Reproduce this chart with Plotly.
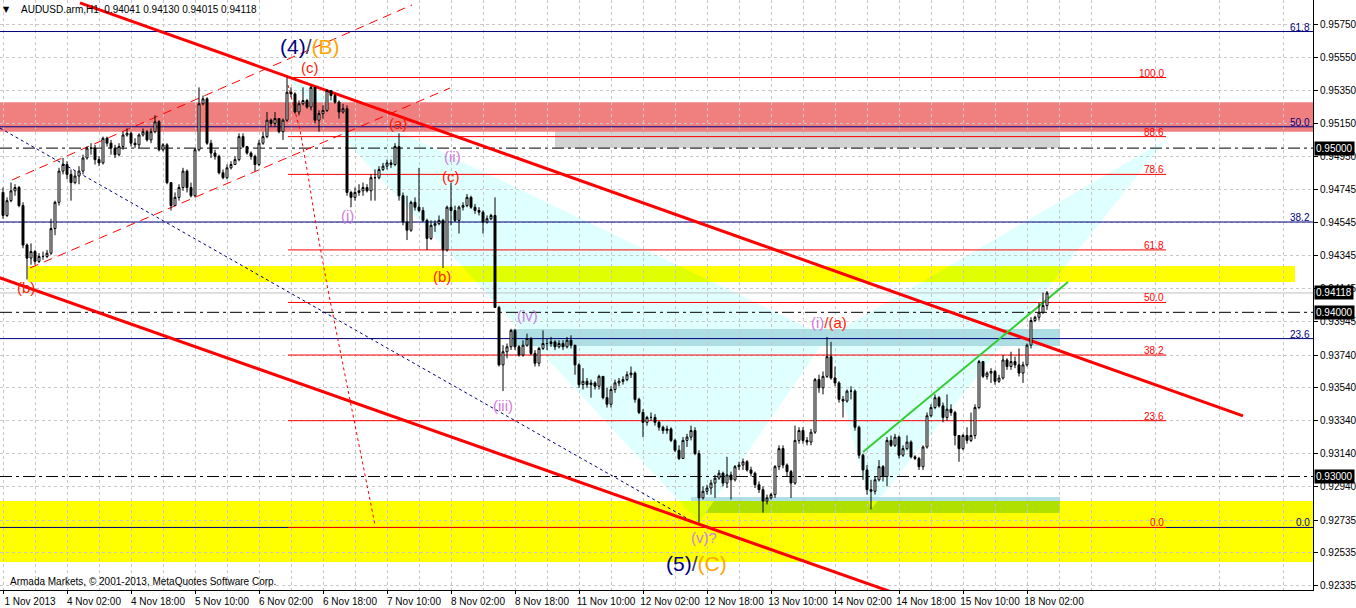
import plotly.graph_objects as go

# ------------------------------------------------------------------ data
tick_bars = [0, 16, 32, 48, 64, 80, 96, 112, 128, 144, 160, 176, 192, 208, 224, 240, 256]
tick_labels = ["1 Nov 2013", "4 Nov 02:00", "4 Nov 18:00", "5 Nov 10:00", "6 Nov 02:00",
               "6 Nov 18:00", "7 Nov 10:00", "8 Nov 02:00", "8 Nov 18:00", "11 Nov 10:00",
               "12 Nov 02:00", "12 Nov 18:00", "13 Nov 10:00", "14 Nov 02:00", "14 Nov 18:00",
               "15 Nov 10:00", "18 Nov 02:00"]
price_ticks = [0.95750, 0.95550, 0.95350, 0.95150, 0.94950, 0.94745, 0.94545, 0.94345, 0.94145,
               0.93945, 0.93740, 0.93540, 0.93340, 0.93140, 0.92940, 0.92735, 0.92535, 0.92335]

first_open = 0.9473
close = [
    0.9459, 0.9468, 0.9474, 0.9476, 0.9465, 0.9441, 0.9433, 0.9437, 0.9431, 0.9434,
    0.9434, 0.9436, 0.9451, 0.9467, 0.9486, 0.9490, 0.9484, 0.9479, 0.9483, 0.9486,
    0.9494, 0.9500, 0.9500, 0.9493, 0.9491, 0.9506, 0.9503, 0.9500, 0.9496, 0.9501,
    0.9508, 0.9509, 0.9503, 0.9502, 0.9508, 0.9510, 0.9505, 0.9510, 0.9516, 0.9499,
    0.9502, 0.9479, 0.9465, 0.9470, 0.9476, 0.9486, 0.9476, 0.9471, 0.9499, 0.9527,
    0.9530, 0.9503, 0.9497, 0.9495, 0.9485, 0.9482, 0.9488, 0.9490, 0.9493, 0.9507,
    0.9501, 0.9497, 0.9495, 0.9490, 0.9503, 0.9507, 0.9517, 0.9515, 0.9518, 0.9510,
    0.9517, 0.9534, 0.9533, 0.9522, 0.9527, 0.9529, 0.9525, 0.9537, 0.9517, 0.9521,
    0.9523, 0.9535, 0.9532, 0.9528, 0.9522, 0.9524, 0.9473, 0.9470, 0.9473, 0.9474,
    0.9476, 0.9474, 0.9482, 0.9482, 0.9487, 0.9489, 0.9491, 0.9490, 0.9501, 0.9471,
    0.9455, 0.9450, 0.9467, 0.9464, 0.9462, 0.9456, 0.9445, 0.9453, 0.9454, 0.9456,
    0.9438, 0.9464, 0.9462, 0.9456, 0.9464, 0.9465, 0.9470, 0.9464, 0.9462, 0.9461,
    0.9455, 0.9457, 0.9459, 0.9403, 0.9368, 0.9376, 0.9379, 0.9389, 0.9379, 0.9374,
    0.9380, 0.9384, 0.9375, 0.9369, 0.9378, 0.9381, 0.9381, 0.9382, 0.9379, 0.9381,
    0.9379, 0.9383, 0.9380, 0.9368, 0.9356, 0.9358, 0.9356, 0.9357, 0.9355, 0.9361,
    0.9348, 0.9344, 0.9353, 0.9357, 0.9358, 0.9359, 0.9362, 0.9363, 0.9347, 0.9339,
    0.9333, 0.9336, 0.9336, 0.9333, 0.9330, 0.9328, 0.9329, 0.9322, 0.9316, 0.9311,
    0.9322, 0.9324, 0.9328, 0.9314, 0.9287, 0.9291, 0.9293, 0.9296, 0.9299, 0.9302,
    0.9296, 0.9301, 0.9298, 0.9306, 0.9307, 0.9309, 0.9304, 0.9302, 0.9295, 0.9292,
    0.9285, 0.9287, 0.9289, 0.9306, 0.9317, 0.9307, 0.9303, 0.9296, 0.9322, 0.9328,
    0.9322, 0.9321, 0.9327, 0.9359, 0.9354, 0.9361, 0.9373, 0.9360, 0.9357, 0.9347,
    0.9346, 0.9352, 0.9352, 0.9330, 0.9313, 0.9304, 0.9292, 0.9291, 0.9298, 0.9306,
    0.9300, 0.9322, 0.9319, 0.9324, 0.9313, 0.9317, 0.9321, 0.9312, 0.9311, 0.9306,
    0.9318, 0.9337, 0.9342, 0.9348, 0.9343, 0.9336, 0.9341, 0.9339, 0.9325, 0.9317,
    0.9325, 0.9322, 0.9325, 0.9342, 0.9370, 0.9361, 0.9363, 0.9364, 0.9358, 0.9360,
    0.9371, 0.9367, 0.9370, 0.9368, 0.9363, 0.9368, 0.9380, 0.9395, 0.9397, 0.9400,
    0.94041, 0.94118]
high = [
    0.9476, 0.9470, 0.9479, 0.9478, 0.9477, 0.9467, 0.9442, 0.9442, 0.9438, 0.9436,
    0.9437, 0.9438, 0.9457, 0.9468, 0.9488, 0.9494, 0.9492, 0.9487, 0.9486, 0.9489,
    0.9496, 0.9501, 0.9503, 0.9502, 0.9495, 0.9507, 0.9507, 0.9505, 0.9502, 0.9503,
    0.9510, 0.9512, 0.9510, 0.9506, 0.9509, 0.9512, 0.9511, 0.9512, 0.9520, 0.9517,
    0.9503, 0.9503, 0.9479, 0.9473, 0.9478, 0.9488, 0.9487, 0.9479, 0.9500, 0.9537,
    0.9532, 0.9531, 0.9505, 0.9499, 0.9496, 0.9487, 0.9490, 0.9492, 0.9495, 0.9509,
    0.9509, 0.9501, 0.9498, 0.9496, 0.9505, 0.9510, 0.9522, 0.9518, 0.9522, 0.9518,
    0.9518, 0.9543, 0.9537, 0.9534, 0.9529, 0.9537, 0.9530, 0.9538, 0.9537, 0.9523,
    0.9526, 0.9536, 0.9535, 0.9533, 0.9529, 0.9527, 0.9526, 0.9474, 0.9476, 0.9478,
    0.9479, 0.9478, 0.9484, 0.9487, 0.9489, 0.9491, 0.9493, 0.9493, 0.9503, 0.9509,
    0.9473, 0.9471, 0.9468, 0.9470, 0.9488, 0.9464, 0.9457, 0.9456, 0.9456, 0.9459,
    0.9457, 0.9465, 0.9479, 0.9465, 0.9465, 0.9467, 0.9472, 0.9471, 0.9466, 0.9464,
    0.9462, 0.9459, 0.9460, 0.9470, 0.9404, 0.9380, 0.9381, 0.9390, 0.9390, 0.9380,
    0.9383, 0.9387, 0.9385, 0.9377, 0.9379, 0.9389, 0.9384, 0.9385, 0.9383, 0.9383,
    0.9383, 0.9385, 0.9386, 0.9380, 0.9369, 0.9366, 0.9360, 0.9359, 0.9358, 0.9362,
    0.9361, 0.9354, 0.9355, 0.9359, 0.9360, 0.9361, 0.9364, 0.9367, 0.9364, 0.9348,
    0.9341, 0.9337, 0.9339, 0.9338, 0.9334, 0.9331, 0.9331, 0.9330, 0.9323, 0.9319,
    0.9324, 0.9326, 0.9331, 0.9330, 0.9316, 0.9294, 0.9295, 0.9298, 0.9301, 0.9304,
    0.9303, 0.9312, 0.9303, 0.9307, 0.9309, 0.9311, 0.9310, 0.9306, 0.9303, 0.9297,
    0.9294, 0.9289, 0.9290, 0.9307, 0.9319, 0.9319, 0.9308, 0.9304, 0.9331, 0.9330,
    0.9330, 0.9324, 0.9329, 0.9360, 0.9362, 0.9364, 0.9385, 0.9382, 0.9367, 0.9358,
    0.9349, 0.9353, 0.9355, 0.9353, 0.9331, 0.9314, 0.9307, 0.9298, 0.9300, 0.9310,
    0.9307, 0.9324, 0.9325, 0.9326, 0.9325, 0.9319, 0.9325, 0.9322, 0.9313, 0.9312,
    0.9319, 0.9339, 0.9344, 0.9350, 0.9349, 0.9345, 0.9350, 0.9344, 0.9340, 0.9325,
    0.9326, 0.9330, 0.9339, 0.9344, 0.9371, 0.9370, 0.9364, 0.9366, 0.9365, 0.9362,
    0.9374, 0.9372, 0.9376, 0.9373, 0.9378, 0.9370, 0.9381, 0.9397, 0.9398, 0.9406,
    0.9412, 0.94130]
low = [
    0.9457, 0.9458, 0.9467, 0.9471, 0.9464, 0.9439, 0.9420, 0.9429, 0.9429, 0.9430,
    0.9432, 0.9433, 0.9435, 0.9447, 0.9465, 0.9484, 0.9481, 0.9468, 0.9478, 0.9478,
    0.9484, 0.9493, 0.9496, 0.9490, 0.9489, 0.9490, 0.9501, 0.9496, 0.9494, 0.9495,
    0.9499, 0.9507, 0.9501, 0.9500, 0.9500, 0.9507, 0.9504, 0.9503, 0.9509, 0.9498,
    0.9498, 0.9478, 0.9462, 0.9465, 0.9468, 0.9474, 0.9473, 0.9470, 0.9470, 0.9498,
    0.9526, 0.9502, 0.9494, 0.9493, 0.9484, 0.9481, 0.9481, 0.9487, 0.9490, 0.9492,
    0.9500, 0.9496, 0.9493, 0.9486, 0.9489, 0.9502, 0.9506, 0.9513, 0.9513, 0.9509,
    0.9505, 0.9516, 0.9531, 0.9521, 0.9520, 0.9526, 0.9524, 0.9523, 0.9515, 0.9510,
    0.9518, 0.9522, 0.9529, 0.9527, 0.9518, 0.9521, 0.9471, 0.9464, 0.9468, 0.9471,
    0.9471, 0.9473, 0.9468, 0.9468, 0.9481, 0.9486, 0.9487, 0.9488, 0.9489, 0.9468,
    0.9453, 0.9444, 0.9449, 0.9462, 0.9461, 0.9455, 0.9438, 0.9444, 0.9449, 0.9453,
    0.9427, 0.9437, 0.9453, 0.9455, 0.9448, 0.9462, 0.9464, 0.9463, 0.9460, 0.9459,
    0.9448, 0.9454, 0.9456, 0.9403, 0.9367, 0.9352, 0.9372, 0.9377, 0.9377, 0.9373,
    0.9373, 0.9379, 0.9374, 0.9367, 0.9367, 0.9377, 0.9377, 0.9379, 0.9377, 0.9378,
    0.9377, 0.9378, 0.9378, 0.9362, 0.9354, 0.9353, 0.9354, 0.9348, 0.9353, 0.9353,
    0.9347, 0.9342, 0.9342, 0.9351, 0.9355, 0.9356, 0.9358, 0.9360, 0.9345, 0.9338,
    0.9324, 0.9331, 0.9334, 0.9331, 0.9328, 0.9326, 0.9326, 0.9321, 0.9315, 0.9310,
    0.9311, 0.9318, 0.9322, 0.9313, 0.9272, 0.9286, 0.9289, 0.9289, 0.9287, 0.9298,
    0.9294, 0.9293, 0.9286, 0.9297, 0.9304, 0.9304, 0.9303, 0.9300, 0.9293, 0.9290,
    0.9278, 0.9283, 0.9286, 0.9287, 0.9304, 0.9305, 0.9300, 0.9287, 0.9295, 0.9320,
    0.9320, 0.9319, 0.9319, 0.9326, 0.9351, 0.9350, 0.9360, 0.9359, 0.9355, 0.9345,
    0.9336, 0.9345, 0.9347, 0.9328, 0.9311, 0.9298, 0.9289, 0.9280, 0.9289, 0.9297,
    0.9297, 0.9294, 0.9318, 0.9318, 0.9311, 0.9312, 0.9316, 0.9311, 0.9310, 0.9304,
    0.9304, 0.9317, 0.9336, 0.9341, 0.9342, 0.9333, 0.9334, 0.9337, 0.9319, 0.9309,
    0.9316, 0.9320, 0.9321, 0.9323, 0.9341, 0.9360, 0.9359, 0.9357, 0.9356, 0.9357,
    0.9359, 0.9365, 0.9365, 0.9366, 0.9361, 0.9357, 0.9367, 0.9378, 0.9394, 0.9395,
    0.9399, 0.94015]
open_ = [first_open] + close[:-1]
bars = list(range(len(close)))

# analysis objects (bar index, price)
navy_fib_levels = [0.9571, 0.9513, 0.9455, 0.9384, 0.9269]
navy_fib_labels = ["61.8", "50.0", "38.2", "23.6", "0.0"]
red_fib_levels = [0.9543, 0.9507, 0.9484, 0.9438, 0.9406, 0.9374, 0.9334, 0.9269]
red_fib_labels = ["100.0", "88.6", "78.6", "61.8", "50.0", "38.2", "23.6", "0.0"]
red_fib_start, red_fib_end = 71.25, 290.75
round_levels = [0.9500, 0.9400, 0.9300]
bid_price = 0.94118

channel_upper = [(19.25, 0.95884), (310.0, 0.93369)]
channel_lower = [(-1.0, 0.94212), (222.0, 0.92298)]
rising_upper = [(2.25, 0.94806), (102.25, 0.95872)]
rising_lower = [(6.75, 0.94270), (111.75, 0.95366)]
navy_trend = [(-0.75, 0.95122), (171.75, 0.92735)]
green_trend = [(215.0, 0.93149), (266.25, 0.94185)]
red_arc = [(71.25, 0.95384), (74.25, 0.95110), (76.25, 0.94836), (78.25, 0.94532),
           (81.25, 0.94136), (84.25, 0.93771), (86.75, 0.93466), (89.75, 0.93101), (93.0, 0.92705)]

tri_xab = [(71.0, 0.9543), (174.0, 0.9272), (206.0, 0.9385)]
tri_bcd = [(206.0, 0.9385), (217.0, 0.9280), (290.75, 0.9505)]

X_MIN, X_MAX = -0.75, 327.5
Y_MIN, Y_MAX = 0.92309, 0.95902
salmon_band = (X_MIN, X_MAX, 0.9510, 0.9528)
gray_box = (138.0, 264.25, 0.9500, 0.9513)
yellow_upper = (6.25, 323.0, 0.94185, 0.94282)
yellow_lower = (X_MIN, X_MAX, 0.92480, 0.92851)
blue_upper = (127.25, 264.25, 0.93795, 0.93898)
blue_lower = (172.0, 264.25, 0.92778, 0.92875)

# ------------------------------------------------------------------ helpers
RED = "#FF0000"
NAVY = "#000080"
ORCHID = "#CF7BE0"
LBL_RED = "#FF1A00"
GRID = "#C8C8C8"
FONT = "Liberation Sans"

shapes = []


def rect(r, color, layer="below"):
    shapes.append(dict(type="rect", xref="x", yref="y", x0=r[0], x1=r[1], y0=r[2], y1=r[3],
                       fillcolor=color, line=dict(width=0), layer=layer))


def poly(pts, color, layer="below"):
    if len(pts) < 3:
        return
    path = "M " + " L ".join(f"{p[0]},{p[1]}" for p in pts) + " Z"
    shapes.append(dict(type="path", xref="x", yref="y", path=path, fillcolor=color,
                       line=dict(width=0), layer=layer))


def polyline(pts, color, width=1, dash="solid", layer="between"):
    path = "M " + " L ".join(f"{p[0]},{p[1]}" for p in pts)
    shapes.append(dict(type="path", xref="x", yref="y", path=path,
                       line=dict(color=color, width=width, dash=dash), layer=layer))


def seg(pts, color, width=1, dash="solid", layer="between"):
    (a, b), (c, d) = pts
    shapes.append(dict(type="line", xref="x", yref="y", x0=a, y0=b, x1=c, y1=d,
                       line=dict(color=color, width=width, dash=dash), layer=layer))


def clip(polygon, r):
    xmin, xmax, ymin, ymax = r

    def run(pts, inside, inter):
        out = []
        for k in range(len(pts)):
            cur, prev = pts[k], pts[k - 1]
            if inside(cur):
                if not inside(prev):
                    out.append(inter(prev, cur))
                out.append(cur)
            elif inside(prev):
                out.append(inter(prev, cur))
        return out

    def ix(x0):
        return lambda p, q: (x0, p[1] + (q[1] - p[1]) * (x0 - p[0]) / (q[0] - p[0]))

    def iy(y0):
        return lambda p, q: (p[0] + (q[0] - p[0]) * (y0 - p[1]) / (q[1] - p[1]), y0)

    pts = list(polygon)
    for inside, inter in [(lambda p: p[0] >= xmin, ix(xmin)), (lambda p: p[0] <= xmax, ix(xmax)),
                          (lambda p: p[1] >= ymin, iy(ymin)), (lambda p: p[1] <= ymax, iy(ymax))]:
        if not pts:
            break
        pts = run(pts, inside, inter)
    return pts


# ------------------------------------------------------------------ fills
poly(tri_xab, "#E0FFFF")
poly(tri_bcd, "#E0FFFF")
rect(gray_box, "#D3D3D3")
rect(salmon_band, "#F08080")
rect(blue_upper, "#ACDEE4")
rect(blue_lower, "#B0E0E6")
rect(yellow_upper, "#FFFF00")
rect(yellow_lower, "#FFFF00")
rect((blue_lower[0], blue_lower[1], blue_lower[2], yellow_lower[3]), "#B0E000")
for tri in (tri_xab, tri_bcd):
    for band in (yellow_upper, yellow_lower):
        poly(clip(tri, band), "#E0FF00")

# ------------------------------------------------------------------ lines
for lv in navy_fib_levels:
    seg([(X_MIN, lv), (X_MAX, lv)], NAVY)
for lv in red_fib_levels:
    seg([(red_fib_start, lv), (red_fib_end, lv)], RED)
for lv in round_levels:
    seg([(X_MIN, lv), (X_MAX, lv)], "black", dash="12px,4px,3px,4px")
seg([(X_MIN, bid_price), (X_MAX, bid_price)], "#C0C0C0")
seg(navy_trend, NAVY, dash="3px,3px")
seg(rising_upper, RED, dash="9px,6px")
seg(rising_lower, RED, dash="9px,6px")
polyline(red_arc, RED, dash="3px,3px")
seg(channel_upper, RED, width=3)
seg(channel_lower, RED, width=3)
seg(green_trend, "#32CD32", width=2)

# ------------------------------------------------------------------ figure
fig = go.Figure(go.Candlestick(
    x=bars, open=open_, high=high, low=low, close=close,
    increasing=dict(line=dict(color="black", width=1), fillcolor="white"),
    decreasing=dict(line=dict(color="black", width=1), fillcolor="black"),
    whiskerwidth=0, hoverinfo="skip", showlegend=False))

ann = []
for lv, t in zip(navy_fib_levels, navy_fib_labels):
    ann.append(dict(x=X_MAX, y=lv, xref="x", yref="y", text=t, showarrow=False, xanchor="right",
                    yanchor="bottom", xshift=-1, yshift=-3, font=dict(family=FONT, size=10, color=NAVY)))
for lv, t in zip(red_fib_levels, red_fib_labels):
    ann.append(dict(x=red_fib_end, y=lv, xref="x", yref="y", text=t, showarrow=False, xanchor="right",
                    yanchor="bottom", yshift=-3, font=dict(family=FONT, size=10, color=RED)))

wave_labels = [
    ("(c)", 76.75, 0.9549, LBL_RED), ("(a)", 98.75, 0.9515, LBL_RED),
    ("(ii)", 112.25, 0.9495, ORCHID), ("(c)", 112.0, 0.9483, LBL_RED),
    ("(i)", 86.0, 0.9459, ORCHID), ("(b)", 109.75, 0.9422, LBL_RED),
    ("(iv)", 131.0, 0.9398, ORCHID), ("(iii)", 125.0, 0.9343, ORCHID),
    ("(v)?", 175.25, 0.9263, ORCHID), ("(b)", 5.75, 0.9415, LBL_RED),
]
for t, bx, py, col in wave_labels:
    ann.append(dict(x=bx, y=py, xref="x", yref="y", text=t, showarrow=False,
                    font=dict(family=FONT, size=15, color=col)))
ann.append(dict(x=206.5, y=0.9394, xref="x", yref="y", showarrow=False,
                text=f'<span style="color:{ORCHID}">(i)</span><span style="color:{LBL_RED}">/(a)</span>',
                font=dict(family=FONT, size=15)))
ann.append(dict(x=76.75, y=0.9562, xref="x", yref="y", showarrow=False,
                text='<span style="color:#000080">(4)</span><span style="color:#3A3A6A">/</span>'
                     '<span style="color:#FFA500">(B)</span>',
                font=dict(family=FONT, size=21)))
ann.append(dict(x=173.25, y=0.9247, xref="x", yref="y", showarrow=False,
                text='<span style="color:#000080">(5)</span><span style="color:#3A3A6A">/</span>'
                     '<span style="color:#FFA500">(C)</span>',
                font=dict(family=FONT, size=21)))

# header and footer texts
ann.append(dict(x=0.0053, y=0.9847, xref="paper", yref="paper", text="▼", showarrow=False,
                xanchor="center", yanchor="middle", font=dict(family="DejaVu Sans", size=8, color="black")))
ann.append(dict(x=0.0145, y=0.9831, xref="paper", yref="paper", showarrow=False,
                text="AUDUSD.arm,H1  0.94041 0.94130 0.94015 0.94118",
                xanchor="left", yanchor="middle", font=dict(family=FONT, size=10, color="black")))
ann.append(dict(x=0.0061, y=0.0136, xref="paper", yref="paper", showarrow=False,
                text="Armada Markets, © 2001-2013, MetaQuotes Software Corp.",
                xanchor="left", yanchor="middle", font=dict(family=FONT, size=10, color="black")))

# price boxes on the axis
for v in round_levels + [bid_price]:
    ann.append(dict(x=1, y=v, xref="paper", yref="y", text=f"{v:.5f}", showarrow=False,
                    xanchor="left", yanchor="middle", xshift=1, bgcolor="black", borderpad=1,
                    font=dict(family=FONT, size=10, color="white")))

minor_vals = sorted([v + 8 for v in tick_bars] + [272, 288, 304, 320])

fig.update_layout(
    width=1356, height=608, autosize=False,
    margin=dict(l=0, r=43, t=0, b=18, autoexpand=False),
    paper_bgcolor="white", plot_bgcolor="white", showlegend=False,
    shapes=shapes, annotations=ann,
    xaxis=dict(range=[X_MIN, X_MAX], tickmode="array", tickvals=tick_bars, ticktext=tick_labels,
               ticks="outside", ticklen=3, tickcolor="black", showgrid=True, gridcolor=GRID,
               griddash="3px,3px", gridwidth=1, zeroline=False, showline=True, linecolor="black",
               linewidth=1, tickfont=dict(family=FONT, size=10, color="black"), ticklabelshift=27,
               ticklabelstandoff=-1, automargin=False,
               rangeslider=dict(visible=False),
               minor=dict(tickvals=minor_vals, showgrid=True, gridcolor=GRID,
                          griddash="3px,3px", ticks="")),
    yaxis=dict(range=[Y_MIN, Y_MAX], side="right", tickmode="array", tickvals=price_ticks,
               ticktext=[f"{v:.5f}" for v in price_ticks], ticks="outside", ticklen=4,
               tickcolor="black", showgrid=True, gridcolor=GRID, griddash="3px,3px", gridwidth=1,
               zeroline=False, showline=True, mirror=True, linecolor="black", linewidth=1,
               automargin=False, tickfont=dict(family=FONT, size=10, color="black")),
)

fig.write_html("out.html", config={"displayModeBar": False},
               post_script="document.body.style.margin='0px';document.body.style.padding='0px';")
